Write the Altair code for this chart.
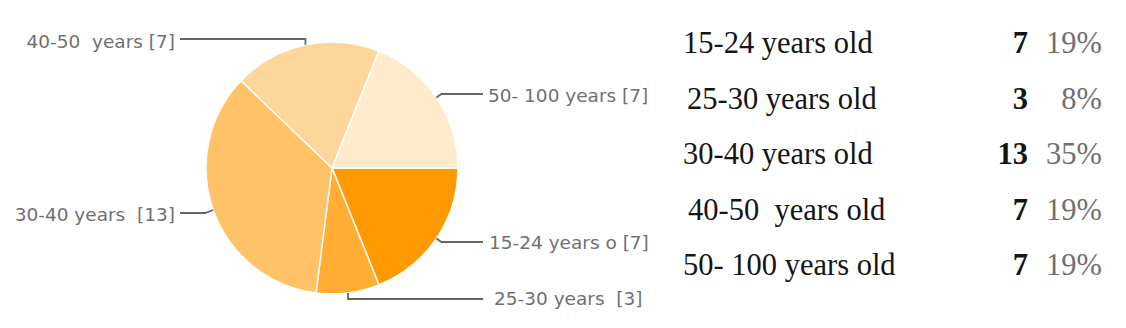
import math
import altair as alt
import pandas as pd

NB = "\u00a0"
# ---- data ----
categories = ["15-24 years old", "25-30 years old", "30-40 years old",
              "40-50" + NB + " years old", "50- 100 years old"]
pie_labels = ["15-24 years o [7]", "25-30 years" + NB + " [3]", "30-40 years" + NB + " [13]",
              "40-50" + NB + " years [7]", "50- 100 years [7]"]
counts = [7, 3, 13, 7, 7]
percents = ["19%", "8%", "35%", "19%", "19%"]
colors = ["#ff9900", "#ffad33", "#ffc266", "#ffd699", "#ffebcc"]

# ---- layout (positions / styles) ----
W, H = 1126, 328
CX, CY, R = 332, 168, 126
label_side = ["right", "right", "left", "left", "right"]
label_line_y = [242, 299, 213, 39, 94]
elbow_dx = [5, 0, -8, 0, 5]
line_end_x = {"right": 483, "left": 180}
label_text_x = [489, 494, 175, 175, 488]
label_text_y = [243, 299, 215, 42, 96]
table_label_x = [683, 687, 683, 688, 683]

total = sum(counts)
start = math.pi / 2

pie_df = pd.DataFrame({"cat": categories, "value": counts, "idx": range(len(categories))})

# leader lines, anchored at the mid-angle of each slice
rows = []
cum = 0
for i, c in enumerate(counts):
    mid = start + (cum + c / 2) / total * 2 * math.pi
    cum += c
    ex = CX + R * math.sin(mid)
    ey = CY - R * math.cos(mid)
    rows.append({"cat": categories[i], "k": 0, "x": ex, "y": ey})
    rows.append({"cat": categories[i], "k": 1, "x": ex + elbow_dx[i], "y": label_line_y[i]})
    rows.append({"cat": categories[i], "k": 2, "x": line_end_x[label_side[i]], "y": label_line_y[i]})
lines_df = pd.DataFrame(rows)

lab_df = pd.DataFrame({"label": pie_labels, "side": label_side,
                       "x": label_text_x, "y": label_text_y})

table_df = pd.DataFrame({"cat": categories, "count": counts, "pct": percents,
                         "lx": table_label_x})

xs = alt.Scale(domain=[0, W], range=[0, W], nice=False, zero=False)
ys = alt.Scale(domain=[0, H], range=[0, H], nice=False, zero=False)

pie = alt.Chart(pie_df).mark_arc(outerRadius=R, stroke="white", strokeWidth=1.5).encode(
    theta=alt.Theta("value:Q", scale=alt.Scale(range=[start, start + 2 * math.pi]), stack=True),
    color=alt.Color("cat:N", scale=alt.Scale(domain=categories, range=colors), legend=None),
    order=alt.Order("idx:Q"),
    x=alt.value(CX),
    y=alt.value(CY),
)

leaders = alt.Chart(lines_df).mark_line(color="#666666", strokeWidth=1.8).encode(
    x=alt.X("x:Q", scale=xs, axis=None),
    y=alt.Y("y:Q", scale=ys, axis=None),
    detail="cat:N",
    order="k:Q",
)

lab_base = alt.Chart(lab_df).encode(
    x=alt.X("x:Q", scale=xs, axis=None),
    y=alt.Y("y:Q", scale=ys, axis=None),
    text="label:N",
)
lab_right = lab_base.transform_filter(alt.datum.side == "right").mark_text(
    align="left", baseline="middle", font="DejaVu Sans", fontSize=18.5, color="#707070")
lab_left = lab_base.transform_filter(alt.datum.side == "left").mark_text(
    align="right", baseline="middle", font="DejaVu Sans", fontSize=18.5, color="#707070")

ty = alt.Y("cat:N", scale=alt.Scale(domain=categories, range=[44, 266], padding=0), axis=None)
t_label = alt.Chart(table_df).mark_text(
    align="left", baseline="middle", font="Liberation Serif", fontSize=30.5, color="#151515"
).encode(x=alt.X("lx:Q", scale=xs, axis=None), y=ty, text="cat:N")
t_count = alt.Chart(table_df).mark_text(
    align="right", baseline="middle", font="Liberation Serif", fontSize=30.5,
    fontWeight="bold", color="#151515"
).encode(x=alt.value(1028), y=ty, text="count:Q")
t_pct = alt.Chart(table_df).mark_text(
    align="right", baseline="middle", font="Liberation Serif", fontSize=30.5, color="#707070"
).encode(x=alt.value(1102), y=ty, text="pct:N")

chart = alt.layer(pie, leaders, lab_right, lab_left, t_label, t_count, t_pct).resolve_scale(
    y="independent"
).properties(
    width=W, height=H, padding=0, autosize="none", background="white"
).configure_view(stroke=None)

chart.save("out.html", embed_options={"renderer": "svg", "actions": False})
